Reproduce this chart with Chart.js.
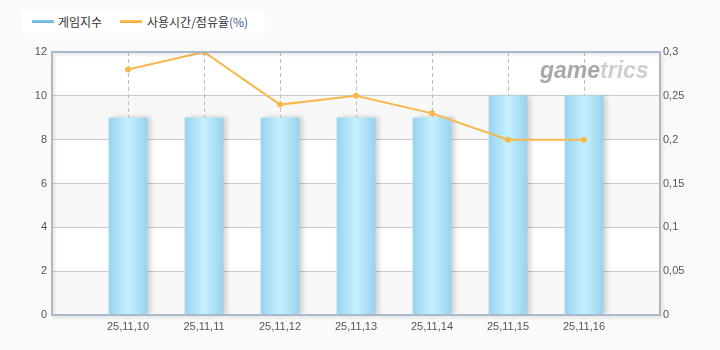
<!DOCTYPE html>
<html>
<head>
<meta charset="utf-8">
<script src="https://cdn.jsdelivr.net/npm/chart.js@4.4.1/dist/chart.umd.min.js"></script>
<style>
  html, body { margin: 0; padding: 0; background: #fafafa; }
  #wrap { position: relative; width: 720px; height: 350px; }
  #legend {
    position: absolute; left: 22px; top: 10px; width: 243px; height: 23px;
    background: #fff; font-family: "Noto Sans CJK KR", sans-serif; font-size: 12px;
    color: #333; line-height: 23px;
  }
  #legend span.sw { position: absolute; top: 10px; width: 22px; height: 3px; }
  #legend span.tx { position: absolute; top: 0; }
</style>
</head>
<body>
<div id="wrap">
  <canvas id="gameChart" width="720" height="350"></canvas>
  <div id="legend">
    <span class="sw" style="left:10px; background:linear-gradient(#8ecbea,#5fb0e0);"></span>
    <span class="tx" style="left:36px;">게임지수</span>
    <span class="sw" style="left:98px; background:linear-gradient(#fbc86a,#f2a430);"></span>
    <span class="tx" style="left:125px;">사용시간/점유율<span style="color:#3a5a8a;">(%)</span></span>
  </div>
</div>
<script>
const dates = ["25,11,10", "25,11,11", "25,11,12", "25,11,13", "25,11,14", "25,11,15", "25,11,16"];
const gameIndex = [9, 9, 9, 9, 9, 10, 10];
const usageShare = [0.28, 0.3, 0.24, 0.25, 0.23, 0.2, 0.2];

// empty slot at each end, so the dates sit on the inner grid lines
const labels = [""].concat(dates, [""]);
const barData = [null].concat(gameIndex, [null]);
const lineData = [null].concat(usageShare, [null]);

const bandPlugin = {
    id: "bands",
    beforeDraw(chart) {
        const { ctx, chartArea, scales } = chart;
        ctx.save();
        ctx.fillStyle = "#ffffff";
        ctx.fillRect(chartArea.left, chartArea.top, chartArea.width, chartArea.height);
        ctx.fillStyle = "#f8f8f8";
        [[0, 2], [4, 6], [8, 10]].forEach(b => {
            const y1 = scales.y.getPixelForValue(b[1]);
            const y0 = scales.y.getPixelForValue(b[0]);
            ctx.fillRect(chartArea.left, y1, chartArea.width, y0 - y1);
        });
        ctx.restore();
    },
    beforeDatasetsDraw(chart) {
        const { ctx, chartArea } = chart;
        ctx.save();
        ctx.font = "italic bold 23px 'Liberation Sans', sans-serif";
        ctx.textBaseline = "alphabetic";
        let x = chartArea.right - 120;
        const y = chartArea.top + 26;
        ctx.fillStyle = "#a8a8a8";
        ctx.fillText("game", x, y);
        x += ctx.measureText("game").width;
        ctx.fillStyle = "#cfcfcf";
        ctx.fillText("trics", x, y);
        ctx.restore();
    },
    beforeDatasetDraw(chart, args) {
        if (args.index === 0) {
            const ctx = chart.ctx;
            ctx.save();
            ctx.shadowColor = "rgba(0,0,0,0.18)";
            ctx.shadowOffsetX = 4;
            ctx.shadowOffsetY = 0;
            ctx.shadowBlur = 5;
        }
    },
    afterDatasetDraw(chart, args) {
        if (args.index === 0) chart.ctx.restore();
    },
    afterDraw(chart) {
        const { ctx, chartArea } = chart;
        ctx.save();
        ctx.shadowColor = "rgba(0,0,0,0.12)";
        ctx.shadowOffsetX = 2;
        ctx.shadowOffsetY = 2;
        ctx.shadowBlur = 3;
        ctx.strokeStyle = "#a9b9cd";
        ctx.lineWidth = 2;
        ctx.strokeRect(chartArea.left, chartArea.top, chartArea.width, chartArea.height);
        ctx.restore();
    }
};

function barFill(context) {
    const chart = context.chart;
    if (!chart.chartArea) return "#b0e2f8";
    const x = chart.scales.x.getPixelForValue(context.dataIndex);
    const g = chart.ctx.createLinearGradient(x - 19, 0, x + 19, 0);
    g.addColorStop(0, "#98d3f0");
    g.addColorStop(0.5, "#c6f1fe");
    g.addColorStop(1, "#98d3f0");
    return g;
}

new Chart(document.getElementById("gameChart"), {
    data: {
        labels: labels,
        datasets: [
            {
                type: "bar",
                label: "게임지수",
                data: barData,
                backgroundColor: barFill,
                borderWidth: 0,
                barThickness: 38,
                yAxisID: "y",
                order: 2
            },
            {
                type: "line",
                label: "사용시간/점유율(%)",
                data: lineData,
                borderColor: "#f8b84e",
                backgroundColor: "#f8b84e",
                borderWidth: 2,
                pointRadius: 3,
                pointBorderWidth: 0,
                tension: 0,
                yAxisID: "y1",
                order: 1
            }
        ]
    },
    options: {
        responsive: false,
        animation: false,
        layout: { padding: { top: 52, left: 0, right: 0, bottom: 0 } },
        plugins: {
            legend: { display: false },
            tooltip: { enabled: false }
        },
        scales: {
            x: {
                offset: false,
                border: { display: false, dash: [4, 3] },
                grid: {
                    offset: false,
                    drawTicks: false,
                    color: ctx => (ctx.index === 0 || ctx.index === labels.length - 1) ? "rgba(0,0,0,0)" : "#bdbdbd",
                    lineWidth: 1
                },
                ticks: {
                    autoSkip: false,
                    maxRotation: 0,
                    padding: 5,
                    color: "#555",
                    font: { family: "'Liberation Sans', sans-serif", size: 11 }
                },
                afterFit(scale) { scale.height = 35; }
            },
            y: {
                position: "left",
                min: 0,
                max: 12,
                border: { display: false },
                grid: { drawTicks: false, color: "#cacaca" },
                ticks: {
                    stepSize: 2,
                    padding: 5,
                    color: "#555",
                    font: { family: "'Liberation Sans', sans-serif", size: 11 }
                },
                afterFit(scale) { scale.width = 52; }
            },
            y1: {
                position: "right",
                min: 0,
                max: 0.3,
                border: { display: false },
                grid: { display: false, drawTicks: false },
                ticks: {
                    stepSize: 0.05,
                    padding: 3,
                    color: "#555",
                    font: { family: "'Liberation Sans', sans-serif", size: 11 },
                    callback: v => String(Number(v.toFixed(2))).replace(".", ",")
                },
                afterFit(scale) { scale.width = 60; }
            }
        }
    },
    plugins: [bandPlugin]
});
</script>
</body>
</html>
